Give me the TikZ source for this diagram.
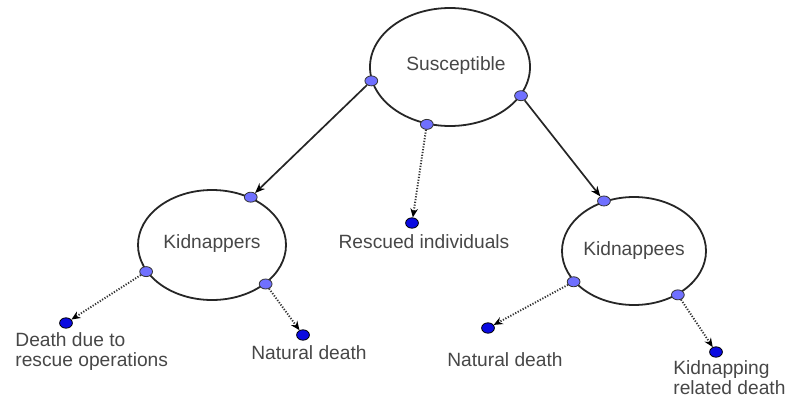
\documentclass[tikz,border=0pt]{standalone}
\usepackage{fontspec}
\setmainfont{Liberation Sans}
\usetikzlibrary{arrows.meta,shapes.geometric}

\definecolor{portblue}{RGB}{112,112,255}
\definecolor{dotblue}{RGB}{10,10,225}

\begin{document}
\begin{tikzpicture}[x=0.5pt,y=-0.5pt]
\useasboundingbox (0,0) rectangle (787,396);

%the three compartments, drawn as big ellipses
\begin{scope}[every node/.style={ellipse,draw=black!85,line width=0.9pt,inner sep=0pt,
              text=black!72,font=\fontsize{9.6}{10}\selectfont}]
    \node[minimum width=80pt,minimum height=59pt] (sus) at (450,67) {\raisebox{3pt}{\hspace{6pt}Susceptible}};
    \node[minimum width=74pt,minimum height=55pt] (kpr) at (212,245) {\raisebox{3pt}{Kidnappers}};
    \node[minimum width=72pt,minimum height=54pt] (kpe) at (634,251) {Kidnappees};
\end{scope}

%small ports sitting on the ellipses (angles measured from the centre)
\begin{scope}[every node/.style={ellipse,draw=black!80,fill=portblue,line width=0.4pt,
              inner sep=0pt,minimum width=6.4pt,minimum height=5pt}]
    \node (s1) at (sus.190) {};
    \node (s2) at (sus.248) {};
    \node (s3) at (sus.338) {};
    \node (k1) at (kpr.51) {};
    \node (k2) at (kpr.202) {};
    \node (k3) at (kpr.324) {};
    \node (e1) at (kpe.121) {};
    \node (e2) at (kpe.207) {};
    \node (e3) at (kpe.315) {};
\end{scope}

%end points (dark blue dots)
\begin{scope}[every node/.style={ellipse,draw=black,fill=dotblue,line width=0.4pt,
              inner sep=0pt,minimum width=6.4pt,minimum height=5.2pt}]
    \node (d1) at (66,323) {};
    \node (d2) at (303,335) {};
    \node (d3) at (412,223) {};
    \node (d4) at (488,328) {};
    \node (d5) at (716,352) {};
\end{scope}

%labels under the end points
\begin{scope}[every node/.style={inner sep=0pt,text=black!72,font=\fontsize{9.6}{10}\selectfont}]
    \node[anchor=west,align=left] (t1) at (15,352) {Death due to\\rescue operations};
    \node (t2) at (309,353) {Natural death};
    \node (t3) at (424,242) {Rescued individuals};
    \node (t4) at (505,360) {Natural death};
    \node[anchor=west,align=left] (t5) at (673,378) {Kidnapping\\related death};
\end{scope}

%solid flows out of Susceptible
\begin{scope}[>={Stealth[black,length=5pt,width=4pt]},
              every edge/.style={draw=black!85,line width=0.85pt}]
    \path [->] (s1) edge (k1);
    \path [->] (s3) edge (e1);
\end{scope}

%dotted flows to the end points
\begin{scope}[>={Stealth[black,length=4.5pt,width=3.8pt]},
              every edge/.style={draw=black!80,line width=0.95pt,dash pattern=on 0.6pt off 0.8pt}]
    \path [->] (s2) edge (d3);
    \path [->] (k2) edge (d1);
    \path [->] (k3) edge (d2);
    \path [->] (e2) edge (d4);
    \path [->] (e3) edge (d5);
\end{scope}
\end{tikzpicture}
\end{document}
